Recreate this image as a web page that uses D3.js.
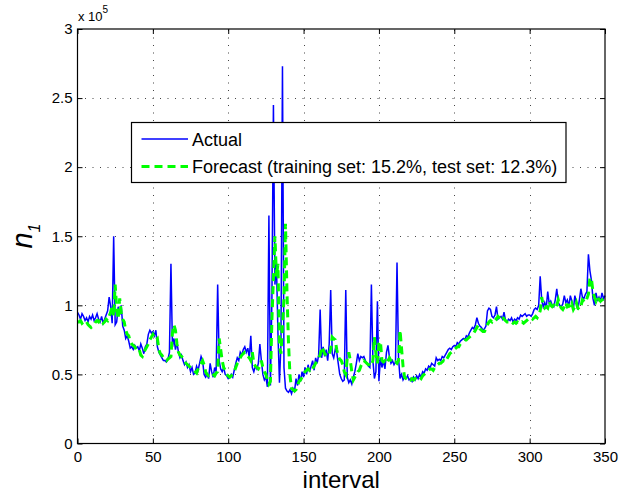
<!DOCTYPE html>
<html>
<head>
<meta charset="utf-8">
<script src="https://cdn.jsdelivr.net/npm/d3@7"></script>
<style>
  body { margin: 0; background: #fff; }
  svg { font-family: "Liberation Sans", Arial, Helvetica, sans-serif; }
</style>
</head>
<body>
<div id="canvas"></div>
<script>
// data (values in units of 10^5, one per interval 0..350)

const actual = [
  0.95, 0.93, 0.90, 0.94, 0.92, 0.89, 0.91, 0.88, 0.92, 0.90,
  0.93, 0.89, 0.91, 0.94, 0.90, 0.88, 0.92, 0.87, 0.90, 0.93,
  0.96, 1.06, 0.99, 0.87, 1.50, 0.86, 0.88, 0.99, 0.93, 1.00,
  0.85, 0.82, 0.76, 0.78, 0.74, 0.69, 0.70, 0.68, 0.71, 0.69,
  0.70, 0.67, 0.72, 0.69, 0.65, 0.70, 0.72, 0.79, 0.82, 0.80,
  0.81, 0.78, 0.82, 0.70, 0.66, 0.64, 0.62, 0.60, 0.60, 0.59,
  0.61, 0.66, 1.30, 0.70, 0.76, 0.68, 0.73, 0.66, 0.62, 0.64,
  0.60, 0.57, 0.59, 0.55, 0.57, 0.52, 0.55, 0.50, 0.51, 0.56,
  0.53, 0.58, 0.63, 0.60, 0.50, 0.48, 0.50, 0.47, 0.58, 0.52,
  0.48, 0.55, 0.52, 1.15, 0.60, 0.54, 0.52, 0.55, 0.50, 0.49,
  0.47, 0.48, 0.50, 0.48, 0.53, 0.58, 0.62, 0.60, 0.66, 0.64,
  0.68, 0.70, 0.66, 0.69, 0.62, 0.78, 0.55, 0.52, 0.56, 0.54,
  0.58, 0.72, 0.60, 0.50, 0.46, 0.48, 0.41, 1.65, 0.42, 1.05,
  2.45, 1.15, 1.30, 0.80, 0.44, 0.72, 2.73, 0.55, 0.40, 0.38,
  0.37, 0.39, 0.36, 0.40, 0.38, 0.47, 0.42, 0.50, 0.45, 0.52,
  0.48, 0.55, 0.50, 0.57, 0.52, 0.56, 0.60, 0.53, 0.62, 0.58,
  0.64, 0.97, 0.62, 0.70, 0.63, 0.68, 0.60, 0.72, 1.11, 0.65,
  0.62, 0.68, 0.66, 0.58, 0.50, 0.47, 0.45, 0.46, 1.11, 0.48,
  0.44, 0.46, 0.43, 0.48, 0.52, 0.58, 0.65, 0.60, 0.63, 0.62,
  0.63, 0.60, 0.58, 0.56, 0.55, 1.15, 0.60, 0.47, 0.52, 1.03,
  0.45, 0.62, 0.55, 0.60, 0.54, 0.66, 0.71, 0.62, 0.58, 0.60,
  0.57, 0.59, 1.31, 0.62, 0.47, 0.50, 0.46, 0.48, 0.47, 0.49,
  0.46, 0.47, 0.45, 0.48, 0.46, 0.49, 0.47, 0.50, 0.48, 0.52,
  0.51, 0.54, 0.53, 0.56, 0.55, 0.58, 0.57, 0.56, 0.62, 0.60,
  0.61, 0.60, 0.63, 0.62, 0.64, 0.66, 0.68, 0.69, 0.68, 0.70,
  0.71, 0.70, 0.73, 0.72, 0.74, 0.75, 0.76, 0.75, 0.78, 0.77,
  0.80, 0.82, 0.84, 0.83, 0.86, 0.91, 0.87, 0.85, 0.84, 0.82,
  0.83, 0.85, 0.96, 0.98, 0.97, 0.92, 0.91, 0.93, 0.99, 0.90,
  0.91, 0.92, 0.90, 0.95, 0.89, 0.88, 0.90, 0.89, 0.91, 0.88,
  0.90, 0.89, 0.91, 0.90, 0.93, 0.92, 0.93, 0.94, 0.92, 0.93,
  0.93, 0.92, 0.94, 0.97, 0.98, 0.97, 1.00, 1.21, 1.04, 0.99,
  1.02, 0.98, 1.10, 1.01, 1.03, 1.00, 0.99, 1.04, 1.12, 1.02,
  1.00, 0.99, 1.01, 1.07, 1.02, 1.04, 0.99, 1.07, 1.03, 0.97,
  1.07, 1.02, 0.97, 1.04, 1.12, 1.06, 1.05, 1.08, 1.10, 1.37,
  1.25, 1.18, 1.05, 1.00, 1.09, 1.04, 1.06, 1.03, 1.09, 1.05,
  1.07
];

const forecast = [
  0.88, 0.88, 0.89, 0.87, 0.88, 0.89, 0.88, 0.86, 0.85, 0.84,
  0.85, 0.86, 0.88, 0.89, 0.88, 0.90, 0.89, 0.87, 0.88, 0.90,
  0.89, 0.92, 0.95, 1.00, 0.92, 1.15, 0.98, 0.90, 1.05, 0.95,
  0.90, 0.88, 0.82, 0.79, 0.78, 0.74, 0.72, 0.71, 0.70, 0.68,
  0.67, 0.68, 0.64, 0.63, 0.66, 0.68, 0.70, 0.72, 0.75, 0.77,
  0.79, 0.77, 0.75, 0.76, 0.68, 0.65, 0.64, 0.62, 0.61, 0.60,
  0.61, 0.62, 0.63, 0.80, 0.86, 0.82, 0.72, 0.66, 0.64, 0.63,
  0.62, 0.60, 0.58, 0.57, 0.56, 0.55, 0.54, 0.53, 0.52, 0.51,
  0.54, 0.56, 0.58, 0.60, 0.57, 0.52, 0.50, 0.49, 0.50, 0.51,
  0.50, 0.49, 0.51, 0.52, 0.76, 0.68, 0.60, 0.55, 0.53, 0.50,
  0.49, 0.48, 0.49, 0.50, 0.52, 0.55, 0.58, 0.60, 0.62, 0.64,
  0.65, 0.66, 0.65, 0.63, 0.62, 0.60, 0.66, 0.58, 0.56, 0.55,
  0.54, 0.56, 0.60, 0.55, 0.52, 0.50, 0.46, 0.43, 0.45, 0.90,
  1.20, 1.50, 1.21, 1.30, 0.70, 0.65, 0.85, 1.05, 1.59, 1.09,
  0.73, 0.49, 0.40, 0.39, 0.38, 0.39, 0.42, 0.45, 0.46, 0.48,
  0.50, 0.52, 0.53, 0.54, 0.53, 0.55, 0.54, 0.56, 0.58, 0.60,
  0.62, 0.64, 0.70, 0.68, 0.65, 0.64, 0.63, 0.65, 0.68, 0.77,
  0.76, 0.75, 0.68, 0.63, 0.61, 0.60, 0.57, 0.52, 0.50, 0.62,
  0.66, 0.60, 0.52, 0.46, 0.48, 0.50, 0.52, 0.53, 0.56, 0.58,
  0.60, 0.59, 0.58, 0.57, 0.57, 0.56, 0.60, 0.77, 0.65, 0.58,
  0.72, 0.74, 0.60, 0.59, 0.60, 0.58, 0.60, 0.62, 0.60, 0.59,
  0.58, 0.59, 0.58, 0.60, 0.82, 0.69, 0.56, 0.48, 0.47, 0.46,
  0.47, 0.46, 0.47, 0.46, 0.47, 0.46, 0.47, 0.48, 0.47, 0.49,
  0.50, 0.51, 0.52, 0.53, 0.54, 0.54, 0.53, 0.55, 0.56, 0.57,
  0.58, 0.58, 0.59, 0.60, 0.59, 0.61, 0.63, 0.65, 0.66, 0.67,
  0.68, 0.69, 0.70, 0.70, 0.72, 0.73, 0.74, 0.75, 0.75, 0.76,
  0.77, 0.78, 0.79, 0.80, 0.82, 0.84, 0.86, 0.83, 0.82, 0.81,
  0.81, 0.83, 0.86, 0.88, 0.89, 0.88, 0.90, 0.91, 0.90, 0.92,
  0.91, 0.90, 0.92, 0.90, 0.89, 0.88, 0.88, 0.89, 0.88, 0.87,
  0.88, 0.87, 0.88, 0.87, 0.87, 0.88, 0.87, 0.88, 0.89, 0.90,
  0.90, 0.91, 0.90, 0.91, 0.92, 0.91, 0.93, 0.96, 1.06, 1.00,
  0.98, 0.99, 0.98, 1.03, 1.00, 0.99, 1.00, 0.98, 1.00, 1.04,
  1.00, 0.98, 0.97, 0.99, 1.02, 0.99, 1.00, 0.98, 1.01, 0.97,
  0.99, 1.02, 0.98, 0.97, 0.99, 1.04, 1.03, 1.02, 1.05, 1.08,
  1.20, 1.19, 1.10, 1.06, 1.03, 1.06, 1.04, 1.03, 1.04, 1.02,
  1.03
];

const xTicks = [0, 50, 100, 150, 200, 250, 300, 350];
const yTicks = [0, 0.5, 1, 1.5, 2, 2.5, 3];
const seriesNames = ['Actual', 'Forecast (training set: 15.2%, test set: 12.3%)'];

// constants

const width = 631;
const height = 493;
const plotLeft = 77.5, plotRight = 605, plotTop = 29, plotBottom = 443.5;

// scales
const x = d3.scaleLinear().domain([0, 350]).range([plotLeft, plotRight]);
const y = d3.scaleLinear().domain([0, 3]).range([plotBottom, plotTop]);

const svg = d3.select('#canvas')
    .append('svg').attr('width', width).attr('height', height);

// dotted grid
const grid = svg.append('g').attr('class', 'grid')
    .attr('stroke', '#444').attr('stroke-width', 1).attr('stroke-dasharray', '1,6.5');
grid.selectAll('.gx').data(xTicks.slice(1, -1)).join('line')
    .attr('x1', d => Math.round(x(d)) + 0.5).attr('x2', d => Math.round(x(d)) + 0.5)
    .attr('y1', plotBottom).attr('y2', plotTop);
grid.selectAll('.gy').data(yTicks.slice(1, -1)).join('line')
    .attr('y1', d => Math.round(y(d)) + 0.5).attr('y2', d => Math.round(y(d)) + 0.5)
    .attr('x1', plotLeft).attr('x2', plotRight);

// lines
const line = d3.line().x((d, i) => x(i)).y(d => y(d));
svg.append('path').datum(actual)
    .attr('fill', 'none').attr('stroke', '#0000ff').attr('stroke-width', 1.5)
    .attr('d', line);
svg.append('path').datum(forecast)
    .attr('fill', 'none').attr('stroke', '#00ff00').attr('stroke-width', 3)
    .attr('stroke-dasharray', '8,5')
    .attr('d', line);

// axes, ticks inward like matlab
const fmt = d => String(d);
svg.append('g').attr('transform', `translate(0,${plotBottom})`)
    .call(d3.axisBottom(x).tickValues(xTicks).tickFormat(fmt).tickSizeInner(-5).tickSizeOuter(0).tickPadding(8));
svg.append('g').attr('transform', `translate(${plotLeft},0)`)
    .call(d3.axisLeft(y).tickValues(yTicks).tickFormat(fmt).tickSizeInner(-5).tickSizeOuter(0).tickPadding(5));
svg.append('g').attr('transform', `translate(0,${plotTop})`)
    .call(d3.axisTop(x).tickValues(xTicks).tickFormat('').tickSizeInner(-5).tickSizeOuter(0));
svg.append('g').attr('transform', `translate(${plotRight},0)`)
    .call(d3.axisRight(y).tickValues(yTicks).tickFormat('').tickSizeInner(-5).tickSizeOuter(0));

svg.selectAll('.domain').remove();
svg.selectAll('.tick line').attr('stroke', '#000');
svg.selectAll('.tick text').attr('fill', '#000')
    .style('font-size', '15px').style('font-family', '"Liberation Sans", Arial, sans-serif');

svg.append('rect')
    .attr('x', plotLeft).attr('y', plotTop).attr('width', plotRight - plotLeft).attr('height', plotBottom - plotTop)
    .attr('fill', 'none').attr('stroke', '#000').attr('stroke-width', 1.2);

// exponent label
const expo = svg.append('text').attr('x', 78).attr('y', 21).attr('font-size', 13).attr('fill', '#000');
expo.append('tspan').text('x 10');
expo.append('tspan').attr('dy', -8).attr('font-size', 10).text('5');

// axis labels
svg.append('text')
    .attr('x', (plotLeft + plotRight) / 2).attr('y', 488)
    .attr('text-anchor', 'middle').attr('font-size', 24).attr('fill', '#000')
    .text('interval');

const yl = svg.append('text')
    .attr('transform', 'translate(32,236) rotate(-90)')
    .attr('text-anchor', 'middle').attr('fill', '#000');
yl.append('tspan').attr('font-size', 29).attr('font-style', 'italic').text('n');
yl.append('tspan').attr('font-size', 16).attr('font-style', 'italic').attr('dy', 8).text('1');

// legend
const legend = svg.append('g');
legend.append('rect')
    .attr('x', 131.5).attr('y', 122.5).attr('width', 434.5).attr('height', 60)
    .attr('fill', '#fff').attr('stroke', '#000').attr('stroke-width', 1.2);
const legendRows = [
  { name: seriesNames[0], color: '#0000ff', w: 1.5, dash: null, y: 139 },
  { name: seriesNames[1], color: '#00ff00', w: 3, dash: '8,5', y: 166.5 }
];
legendRows.forEach(r => {
  legend.append('line')
      .attr('x1', 141.5).attr('x2', 188).attr('y1', r.y).attr('y2', r.y)
      .attr('stroke', r.color).attr('stroke-width', r.w)
      .attr('stroke-dasharray', r.dash);
  legend.append('text')
      .attr('x', 192).attr('y', r.y + 6.5)
      .attr('font-size', 18).attr('fill', '#000')
      .text(r.name);
});
</script>
</body>
</html>
